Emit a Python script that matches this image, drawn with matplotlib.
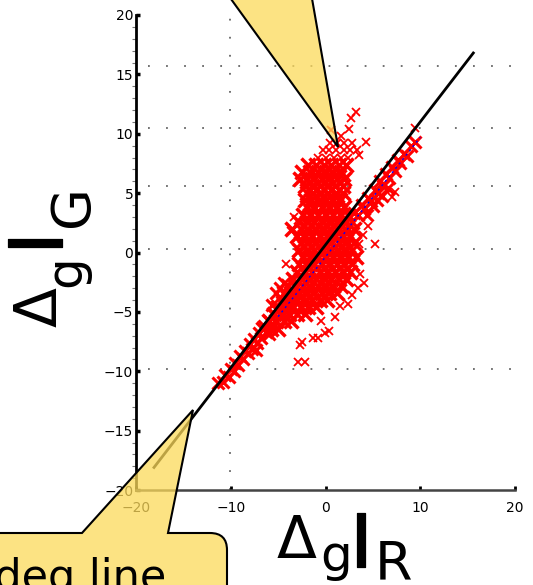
import matplotlib
matplotlib.use("Agg")
import matplotlib.pyplot as plt
import matplotlib.patheffects as pe
from matplotlib.path import Path
from matplotlib.patches import PathPatch

W, H = 533, 585

# dense part of the cloud (plume above the line + blob below it)
core_x = [-1.8, -1.0, -0.2, 0.6, 1.4, 2.2,
          -2.5, -1.6, -0.8, 0.0, 0.8, 1.6,
          -2.7, -1.9, -1.2, -0.4, 0.4, 1.2, 1.9,
          -2.2, -1.4, -0.6, 0.2, 1.0, 1.8,
          -2.0, -1.3, -0.5, 0.3, 1.1, 1.8,
          -2.2, -1.5, -0.7, 0.1, 0.8, 1.5,
          -2.0, -1.2, -0.4, 0.4, 1.2, 2.0,
          -2.4, -1.6, -0.8, 0.0, 0.8, 1.6, 2.4,
          -2.8, -2.0, -1.2, -0.4, 0.4, 1.2, 2.0, 2.8,
          -3.5, -2.6, -1.8, -1.0, -0.2, 0.6, 1.4, 2.2, 3.0,
          -3.0, -2.2, -1.4, -0.6, 0.2, 1.0, 1.8, 2.6,
          -2.6, -1.8, -1.0, -0.2, 0.6, 1.4, 2.2, 3.0,
          -2.8, -2.0, -1.2, -0.4, 0.4, 1.2, 2.0, 2.8,
          -2.4, -1.6, -0.8, 0.0, 0.8, 1.6, 2.4, 3.2,
          -2.8, -2.0, -1.2, -0.4, 0.4, 1.2, 2.0, 2.8,
          -3.0, -2.2, -1.4, -0.6, 0.2, 1.0, 1.8, 2.6,
          -3.4, -2.6, -1.8, -1.0, -0.2, 0.6, 1.4, 2.2,
          -4.0, -3.2, -2.4, -1.6, -0.8, 0.0, 0.8, 1.6,
          -4.4, -3.6, -2.8, -2.0, -1.2, -0.4, 0.4, 1.2,
          -4.6, -3.8, -3.0, -2.2, -1.4, -0.6, 0.2,
          -5.0, -4.2, -3.4, -2.6, -1.8, -1.0,
          -5.4, -4.6, -3.8, -3.0, -2.2,
          -6.0, -5.2, -4.4, -3.6,
          -6.6, -5.8, -5.0]
core_y = [7.4, 7.4, 7.4, 7.4, 7.4, 7.4,
          6.8, 6.8, 6.8, 6.8, 6.8, 6.8,
          6.2, 6.2, 6.2, 6.2, 6.2, 6.2, 6.2,
          5.6, 5.6, 5.6, 5.6, 5.6, 5.6,
          5.0, 5.0, 5.0, 5.0, 5.0, 5.0,
          4.4, 4.4, 4.4, 4.4, 4.4, 4.4,
          3.8, 3.8, 3.8, 3.8, 3.8, 3.8,
          3.2, 3.2, 3.2, 3.2, 3.2, 3.2, 3.2,
          2.6, 2.6, 2.6, 2.6, 2.6, 2.6, 2.6, 2.6,
          2.0, 2.0, 2.0, 2.0, 2.0, 2.0, 2.0, 2.0, 2.0,
          1.4, 1.4, 1.4, 1.4, 1.4, 1.4, 1.4, 1.4,
          0.8, 0.8, 0.8, 0.8, 0.8, 0.8, 0.8, 0.8,
          0.2, 0.2, 0.2, 0.2, 0.2, 0.2, 0.2, 0.2,
          -0.4, -0.4, -0.4, -0.4, -0.4, -0.4, -0.4, -0.4,
          -1.0, -1.0, -1.0, -1.0, -1.0, -1.0, -1.0, -1.0,
          -1.6, -1.6, -1.6, -1.6, -1.6, -1.6, -1.6, -1.6,
          -2.2, -2.2, -2.2, -2.2, -2.2, -2.2, -2.2, -2.2,
          -2.8, -2.8, -2.8, -2.8, -2.8, -2.8, -2.8, -2.8,
          -3.4, -3.4, -3.4, -3.4, -3.4, -3.4, -3.4, -3.4,
          -4.0, -4.0, -4.0, -4.0, -4.0, -4.0, -4.0,
          -4.6, -4.6, -4.6, -4.6, -4.6, -4.6,
          -5.2, -5.2, -5.2, -5.2, -5.2,
          -5.8, -5.8, -5.8, -5.8,
          -6.4, -6.4, -6.4]

# points hugging the 45 degree line
band_x = [-11.3, -10.8, -10.6, -10.2, -10.0, -9.7, -9.5, -9.2, -9.0, -8.7,
          -8.5, -8.2, -8.0, -7.8, -7.5, -7.2, -7.0, -6.8, -6.5, -6.3,
          -6.0, -5.8, -5.5, -5.3, -5.0, -4.8, -4.6, -4.3, -4.0, -3.8,
          -3.5, -3.3, -7.3, -6.0, -5.2, -4.8, -4.4, -5.6,
          3.0, 3.4, 3.8, 4.1, 4.5, 4.8, 5.2, 5.5, 5.8, 6.1,
          6.4, 6.7, 7.0, 7.3, 7.6, 7.9, 8.3, 8.6, 9.0, 9.4,
          6.0, 6.6, 5.4, 4.4, 5.0]
band_y = [-11.0, -10.9, -10.3, -10.5, -9.8, -10.0, -9.3, -9.5, -8.7, -9.0,
          -8.3, -8.5, -7.7, -8.1, -7.3, -7.6, -6.8, -7.2, -6.2, -6.7,
          -5.8, -6.3, -5.2, -5.8, -4.7, -5.3, -4.2, -4.9, -3.8, -4.4,
          -3.3, -3.9, -8.2, -6.9, -3.4, -3.0, -2.6, -4.4,
          3.3, 3.2, 4.0, 3.7, 4.6, 4.3, 5.3, 5.0, 6.0, 5.6,
          6.6, 6.3, 7.2, 6.9, 7.8, 7.5, 8.3, 8.1, 9.0, 9.3,
          4.8, 5.4, 4.4, 3.2, 3.9]

# sparse points and outliers
sparse_x = [0.5, 1.2, 2.0, 2.8, -0.3, 0.4, 1.1, 1.9, 2.6, 3.3,
            -0.8, 0.0, 0.9, 1.6, 2.4,
            3.2, 2.7, 2.5, 0.6, 4.3, 3.5, 1.6,
            6.2, 7.3, 7.0, 5.2, 3.5, 4.0, 4.5, 9.4,
            4.1, 3.6, 2.4, 1.5, 0.4, -0.1, -0.8, -1.3, -2.5, -2.7,
            -2.2, -2.9, 1.0, -0.5, 2.8, 3.4,
            -3.6, -3.3, -4.2]
sparse_y = [9.2, 9.2, 9.2, 9.2, 8.6, 8.6, 8.6, 8.6, 8.6, 8.6,
            8.0, 8.0, 8.0, 8.0, 8.0,
            11.8, 11.3, 10.4, 10.3, 9.3, 8.2, 9.8,
            5.8, 5.1, 4.7, 0.7, 0.7, 1.5, 2.2, 10.5,
            -2.6, -1.8, -4.3, -4.5, -6.6, -6.8, -7.2, -7.2, -7.5, -7.8,
            -9.2, -9.2, -5.4, -5.8, -3.6, -3.0,
            1.8, 3.0, -1.0]

line_x = [-18.1, 15.6]
line_y = [-18.1, 16.8]
fit_x = [-5.0, 10.0]
fit_y = [-5.4, 9.7]

grid_y = [15.7, 10.5, 5.6, 0.3, -9.8]
grid_x = [-10.1]

y_ticks = [-20, -15, -10, -5, 0, 5, 10, 15, 20]
x_ticks = [-20, -10, 0, 10, 20]


def fpx(x, y):
    # pixel position (from top-left) -> figure fraction
    return x / W, 1 - y / H


fig = plt.figure(figsize=(W / 100, H / 100), dpi=100)
ax = fig.add_axes([136 / W, 95 / H, 379 / W, 475 / H])
ax.set_xlim(-20, 20)
ax.set_ylim(-20, 20)

# odd partial dotted grid as in the picture
ax.hlines(grid_y, -18.7, 20, colors="#666666", linestyles=(0, (1, 9)), lw=1.3, zorder=1)
ax.vlines(grid_x, -20, 20, colors="#666666", linestyles=(0, (1, 9)), lw=1.3, zorder=1)

ax.plot(core_x, core_y, "x", color="red", ms=9.5, mew=2.5, zorder=2)
ax.plot(band_x, band_y, "x", color="red", ms=8, mew=2.2, zorder=2)
ax.plot(sparse_x, sparse_y, "x", color="red", ms=5.5, mew=1.3, zorder=2)
ax.plot(fit_x, fit_y, color="blue", ls=(0, (1.5, 2.5)), lw=1.0, zorder=3)
ax.plot(line_x, line_y, color="black", lw=2, zorder=4)

for side in ["top", "right"]:
    ax.spines[side].set_visible(False)
ax.spines["left"].set_linewidth(2)
ax.spines["bottom"].set_linewidth(1.8)
ax.spines["bottom"].set_color("#444444")

ax.set_xticks(x_ticks)
ax.set_yticks(y_ticks)
ax.set_yticks(range(-20, 21), minor=True)
ax.tick_params(axis="y", which="major", direction="in", length=3, width=2.5, labelsize=10, pad=2)
ax.tick_params(axis="y", which="minor", direction="out", length=3, width=0.8, color="#777777")
ax.tick_params(axis="x", which="major", direction="in", length=3, width=2, labelsize=10, pad=8)

thick = [pe.withStroke(linewidth=0.9, foreground="black")]

# x label: Delta_g I_R built from pieces
fig.text(*fpx(296, 558), "Δ", fontsize=42, ha="center", va="baseline")
fig.text(*fpx(336, 571), "g", fontsize=36, ha="center", va="baseline")
fig.text(*fpx(361, 567), "I", fontsize=53, ha="center", va="baseline", path_effects=thick)
fig.text(*fpx(394, 579), "R", fontsize=39, ha="center", va="baseline")

# y label: Delta_g I_G rotated
kw = dict(rotation=90, rotation_mode="anchor", ha="center", va="baseline")
fig.text(*fpx(57, 307), "Δ", fontsize=42, **kw)
fig.text(*fpx(80, 271), "g", fontsize=36, **kw)
fig.text(*fpx(62, 243), "I", fontsize=53, path_effects=thick, **kw)
fig.text(*fpx(88, 206), "G", fontsize=39, **kw)

yellow = (252 / 255, 218 / 255, 90 / 255, 0.75)

# top callout tail (body is off the slide)
top = [fpx(210, -30), fpx(338, 147), fpx(307, -30), fpx(210, -30)]
fig.add_artist(PathPatch(Path(top, [Path.MOVETO, Path.LINETO, Path.LINETO, Path.CLOSEPOLY]),
                         transform=fig.transFigure, facecolor=yellow, edgecolor="black", lw=1.5))

# bottom callout bubble with tail
verts = [fpx(-30, 533), fpx(82, 533), fpx(193, 410), fpx(168, 533), fpx(210, 533),
         fpx(227, 533), fpx(227, 550), fpx(227, 620), fpx(-30, 620), fpx(-30, 533)]
codes = [Path.MOVETO, Path.LINETO, Path.LINETO, Path.LINETO, Path.LINETO,
         Path.CURVE3, Path.CURVE3, Path.LINETO, Path.LINETO, Path.CLOSEPOLY]
fig.add_artist(PathPatch(Path(verts, codes), transform=fig.transFigure,
                         facecolor=yellow, edgecolor="black", lw=1.5))
fig.text(*fpx(166, 590), "45 deg line", fontsize=31, ha="right", va="baseline", zorder=5)

fig.savefig("out.png", dpi=100)
